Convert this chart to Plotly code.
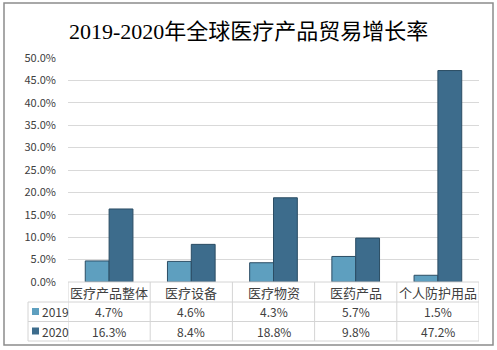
import plotly.graph_objects as go

categories = ["医疗产品整体", "医疗设备", "医疗物资", "医药产品", "个人防护用品"]
series_names = ["2019", "2020"]
values_2019 = [4.7, 4.6, 4.3, 5.7, 1.5]
values_2020 = [16.3, 8.4, 18.8, 9.8, 47.2]
y_ticks = [0, 5, 10, 15, 20, 25, 30, 35, 40, 45, 50]
title = "2019-2020年全球医疗产品贸易增长率"

colors = ["#5e9fbf", "#3d6c8c"]
line_col = "#2b4d64"
grid_col = "#d9d9d9"
table_col = "#d4d4d4"
txt_col = "#404040"

W, H = 497, 350
L, R, T, B = 68, 18, 58, 68
pw, ph = W - L - R, H - T - B

def px(x):
    return (x - L) / pw

def py(y):
    return (H - B - y) / ph

xs = list(range(len(categories)))
fig = go.Figure()
for name, vals, c in zip(series_names, [values_2019, values_2020], colors):
    fig.add_trace(go.Bar(x=xs, y=vals, name=name, marker=dict(color=c, line=dict(color=line_col, width=1)),
                         hoverinfo="skip"))

shapes = []
annotations = []
# outer border
shapes.append(dict(type="rect", xref="paper", yref="paper", x0=px(4), x1=px(493), y0=py(3), y1=py(345),
                   line=dict(color="#8c8c8c", width=1.5), layer="below"))
# table horizontal lines
for yy in [282, 302, 321.5, 341]:
    x0 = 68 if yy == 282 else 28
    shapes.append(dict(type="line", xref="paper", yref="paper", x0=px(x0), x1=px(479), y0=py(yy), y1=py(yy),
                       line=dict(color=table_col, width=1)))
# table vertical lines
shapes.append(dict(type="line", xref="paper", yref="paper", x0=px(28), x1=px(28), y0=py(302), y1=py(341),
                   line=dict(color=table_col, width=1)))
for k in range(len(categories) + 1):
    shapes.append(dict(type="line", xref="x", yref="paper", x0=k - 0.5, x1=k - 0.5, y0=py(282), y1=py(341),
                       line=dict(color=table_col, width=1)))

font_tbl = "Noto Sans CJK SC"
# header
for k, cat in enumerate(categories):
    annotations.append(dict(x=k, y=py(292), xref="x", yref="paper", text=cat, showarrow=False,
                            xanchor="center", yanchor="middle",
                            font=dict(family=font_tbl, size=13, color=txt_col)))
# rows
row_y = [311.5, 331]
for r, (name, vals, c) in enumerate(zip(series_names, [values_2019, values_2020], colors)):
    yy = row_y[r]
    shapes.append(dict(type="rect", xref="paper", yref="paper", x0=px(32), x1=px(39), y0=py(yy - 3.5), y1=py(yy + 3.5),
                       fillcolor=c, line=dict(color=c, width=0)))
    annotations.append(dict(x=px(40), y=py(yy), xref="paper", yref="paper", text=name, showarrow=False,
                            xanchor="left", yanchor="middle", font=dict(family=font_tbl, size=12, color=txt_col)))
    for k, v in enumerate(vals):
        annotations.append(dict(x=k, y=py(yy), xref="x", yref="paper", text=f"{v:.1f}%", showarrow=False,
                                xanchor="center", yanchor="middle",
                                font=dict(family=font_tbl, size=12, color=txt_col)))

annotations.append(dict(x=px(248), y=py(32), xref="paper", yref="paper", text=title, showarrow=False,
                        xanchor="center", yanchor="middle",
                        font=dict(family="Liberation Serif, Noto Sans CJK SC", size=22, color="#000000")))

fig.update_layout(
    width=W, height=H, autosize=False,
    margin=dict(l=L, r=R, t=T, b=B),
    paper_bgcolor="white", plot_bgcolor="white",
    barmode="group", bargap=0.42, bargroupgap=0,
    showlegend=False,
    shapes=shapes, annotations=annotations,
    xaxis=dict(range=[-0.5, len(categories) - 0.5], showticklabels=False, showgrid=False, zeroline=False,
               fixedrange=True),
    yaxis=dict(range=[0, 50], tickvals=y_ticks, ticktext=[f"{t:.1f}%" for t in y_ticks],
               showgrid=True, gridcolor=grid_col, gridwidth=1, zeroline=False,
               tickfont=dict(family="Noto Sans CJK SC", size=11, color=txt_col), ticks="", ticklen=0,
               ticklabelstandoff=11, fixedrange=True),
)
fig.write_html("out.html")
